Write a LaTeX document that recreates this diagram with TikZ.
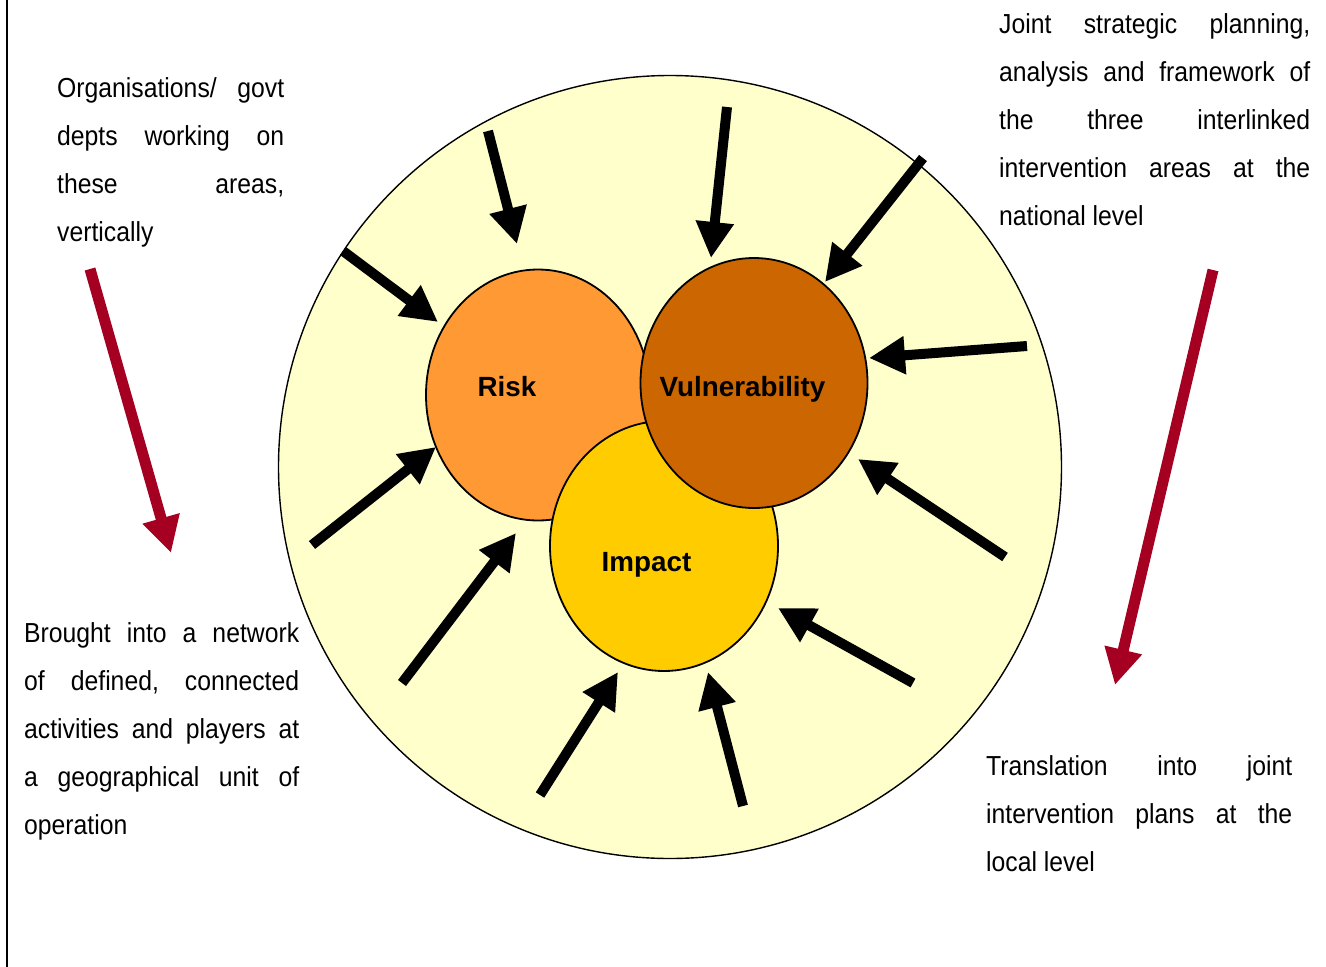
\documentclass[tikz,border=0pt]{standalone}
\usepackage{fontspec}
\setmainfont{Liberation Sans}
\newfontfamily\bodyfont{Liberation Sans}[FakeStretch=0.9]
\usetikzlibrary{arrows.meta,shapes.geometric}
\definecolor{bgyellow}{HTML}{FFFFCC}
\definecolor{riskorange}{HTML}{FF9933}
\definecolor{vulnbrown}{HTML}{CC6600}
\definecolor{impactgold}{HTML}{FFCC00}
\definecolor{darkred}{HTML}{A50021}
\newcommand\jl[2]{\hbox to #1{#2}}
\begin{document}
\begin{tikzpicture}[x=1pt,y=-1pt,
  blob/.style={ellipse, draw=black, line width=1.8pt, inner sep=0pt, outer sep=0pt},
  lbl/.style={font=\fontsize{27.8}{30}\selectfont\bfseries, anchor=base, inner sep=0pt},
  txt/.style={font=\bodyfont\fontsize{27.5}{48}\selectfont, anchor=base west, inner sep=0pt},
  blackarrow/.style={line width=10pt, draw=black, -{Triangle[width=36pt,length=36pt]}},
  redarrow/.style={line width=11pt, draw=darkred, -{Triangle[width=36pt,length=36pt]}}]
\useasboundingbox (0,0) rectangle (1326,967);
\fill[white] (0,0) rectangle (1326,967);
% left border line
\draw[line width=2pt] (7,0) -- (7,967);
% outer circle
\node[circle, draw=black, line width=1.4pt, fill=bgyellow, minimum size=783pt, inner sep=0pt] (outer) at (670,467) {};
% three areas
\node[blob, fill=riskorange, minimum width=224pt, minimum height=251pt] (risk) at (538,395) {};
\node[blob, fill=impactgold, minimum width=228pt, minimum height=250pt] (impact) at (664,546) {};
\node[blob, fill=vulnbrown, minimum width=227pt, minimum height=250pt] (vuln) at (754,383) {};
\node[lbl] (risklbl) at (507,396) {Risk};
\node[lbl] (vulnlbl) at (742.5,396) {Vulnerability};
\node[lbl] (impactlbl) at (646.5,571) {Impact};
% black arrows
\coordinate (t1) at (488,131);  \coordinate (h1) at (517,244);
\coordinate (t2) at (727,107);  \coordinate (h2) at (711,258);
\coordinate (t3) at (923,158);  \coordinate (h3) at (825,282);
\coordinate (t4) at (1027,346); \coordinate (h4) at (869,358);
\coordinate (t5) at (1005,557); \coordinate (h5) at (858,459);
\coordinate (t6) at (913,683);  \coordinate (h6) at (778,608);
\coordinate (t7) at (743,806);  \coordinate (h7) at (708,672);
\coordinate (t8) at (540,795);  \coordinate (h8) at (618,672);
\coordinate (t9) at (402,683);  \coordinate (h9) at (516,533);
\coordinate (t10) at (312,545); \coordinate (h10) at (436,447);
\coordinate (t11) at (343,251); \coordinate (h11) at (438,322);
\foreach \i in {1,...,11} {\draw[blackarrow] (t\i) -- (h\i);}
% red arrows
\coordinate (rt1) at (90,269);   \coordinate (rh1) at (171,553);
\coordinate (rt2) at (1213,270); \coordinate (rh2) at (1115,685);
\draw[redarrow] (rt1) -- (rh1);
\draw[redarrow] (rt2) -- (rh2);
% texts
\node[txt] (tl) at (57,97.5) {\vtop{\baselineskip=48pt\lineskiplimit=-100pt
  \jl{227pt}{Organisations/\hfil govt}
  \jl{227pt}{depts\hfil working\hfil on}
  \jl{227pt}{these\hfil areas,}
  \hbox{vertically}}};
\node[txt] (tr) at (999,33.5) {\vtop{\baselineskip=48pt\lineskiplimit=-100pt
  \jl{311pt}{Joint\hfil strategic\hfil planning,}
  \jl{311pt}{analysis\hfil and\hfil framework\hfil of}
  \jl{311pt}{the\hfil three\hfil interlinked}
  \jl{311pt}{intervention\hfil areas\hfil at\hfil the}
  \hbox{national level}}};
\node[txt] (bl) at (24,642) {\vtop{\baselineskip=48pt\lineskiplimit=-100pt
  \jl{275pt}{Brought\hfil into\hfil a\hfil network}
  \jl{275pt}{of\hfil defined,\hfil connected}
  \jl{275pt}{activities\hfil and\hfil players\hfil at}
  \jl{275pt}{a\hfil geographical\hfil unit\hfil of}
  \hbox{operation}}};
\node[txt] (br) at (986,775) {\vtop{\baselineskip=48pt\lineskiplimit=-100pt
  \jl{306pt}{Translation\hfil into\hfil joint}
  \jl{306pt}{intervention\hfil plans\hfil at\hfil the}
  \hbox{local level}}};
\end{tikzpicture}
\end{document}
